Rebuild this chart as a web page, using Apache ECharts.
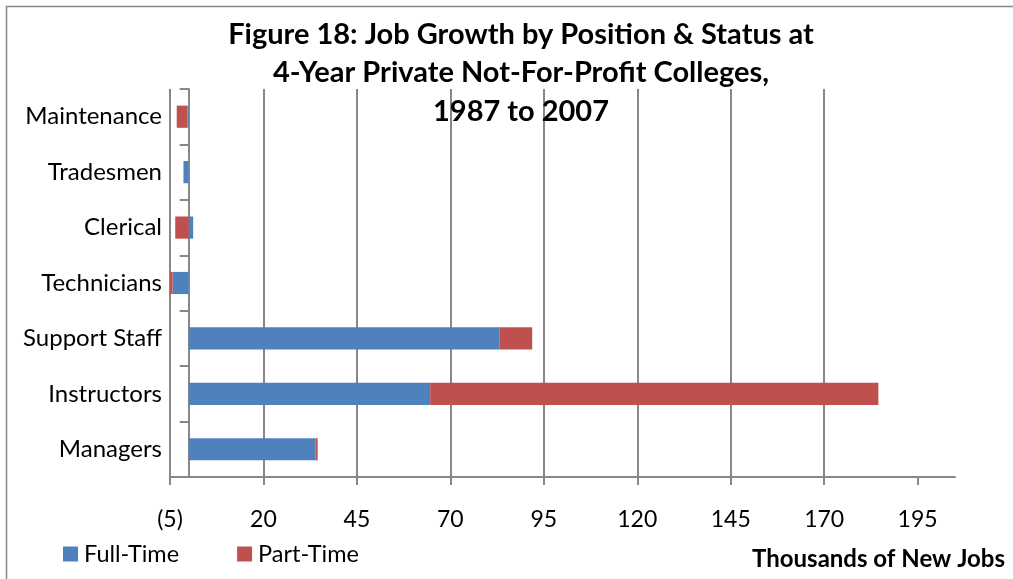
<!DOCTYPE html>
<html>
<head>
<meta charset="utf-8">
<script src="https://cdn.jsdelivr.net/npm/echarts@6/dist/echarts.min.js"></script>
<style>html,body{margin:0;padding:0;background:#fff}#c{width:1013px;height:579px}</style>
</head>
<body>
<div id="c"></div>
<script>
const categories = ['Maintenance', 'Tradesmen', 'Clerical', 'Technicians', 'Support Staff', 'Instructors', 'Managers'];
const fullTime = [-0.3, -1.4, 1.2, -4.3, 83.1, 64.6, 33.9];
const partTime = [-2.9, 0, -3.6, -0.9, 8.8, 119.9, 0.6];
const xTicks = [-5, 20, 45, 70, 95, 120, 145, 170, 195];
const titleText = 'Figure 18: Job Growth by Position & Status at\n4-Year Private Not-For-Profit Colleges,\n1987 to 2007';
const axisTitle = 'Thousands of New Jobs';

const FONT = 'Lato, "Open Sans", sans-serif';
const chart = echarts.init(document.getElementById('c'), null, {renderer: 'canvas'});
chart.setOption({
  animation: false,
  backgroundColor: '#fff',
  title: [{
    text: titleText,
    left: 516,
    top: 10,
    textAlign: 'center',
    textStyle: {fontFamily: FONT, fontWeight: 'bold', fontSize: 29, lineHeight: 38.5, color: '#000', align: 'center'},
    z: 10
  }, {
    text: axisTitle,
    right: 3,
    top: 542,
    textStyle: {fontFamily: FONT, fontWeight: 'bold', fontSize: 24, color: '#000'}
  }],
  legend: {
    left: 58,
    top: 537,
    itemWidth: 15,
    itemHeight: 15,
    itemGap: 58,
    icon: 'rect',
    textStyle: {fontFamily: FONT, fontSize: 23.5, color: '#000', padding: [0, 0, 0, 1]},
    data: ['Full-Time', 'Part-Time']
  },
  grid: {left: 170, right: 58, top: 89, bottom: 102, containLabel: false},
  xAxis: {
    type: 'value',
    min: -5,
    max: 205,
    interval: 25,
    axisLine: {show: true, lineStyle: {color: '#888', width: 2}},
    axisTick: {show: true, length: 8, customValues: xTicks, lineStyle: {color: '#888', width: 2}},
    axisLabel: {
      customValues: xTicks,
      margin: 31,
      fontFamily: FONT, fontSize: 23, color: '#000',
      formatter: v => v < 0 ? '(' + Math.abs(v) + ')' : String(v)
    },
    splitLine: {show: true, showMaxLine: false, lineStyle: {color: '#888', width: 2}}
  },
  yAxis: {
    type: 'category',
    data: categories,
    inverse: true,
    axisLine: {show: true, onZero: true, lineStyle: {color: '#888', width: 2}},
    axisTick: {show: true, length: 9, lineStyle: {color: '#888', width: 2}},
    axisLabel: {margin: 8, fontFamily: FONT, fontSize: 24, color: '#000'}
  },
  graphic: [{
    type: 'rect',
    shape: {x: 6.5, y: 6.5, width: 1020, height: 600},
    style: {fill: 'none', stroke: '#888', lineWidth: 1.5},
    silent: true
  }],
  series: [{
    name: 'Full-Time',
    type: 'bar',
    stack: 'total',
    barWidth: '40%',
    data: fullTime,
    itemStyle: {color: '#4F81BD'}
  }, {
    name: 'Part-Time',
    type: 'bar',
    stack: 'total',
    barWidth: '40%',
    data: partTime,
    itemStyle: {color: '#C0504D'}
  }]
});
</script>
</body>
</html>
